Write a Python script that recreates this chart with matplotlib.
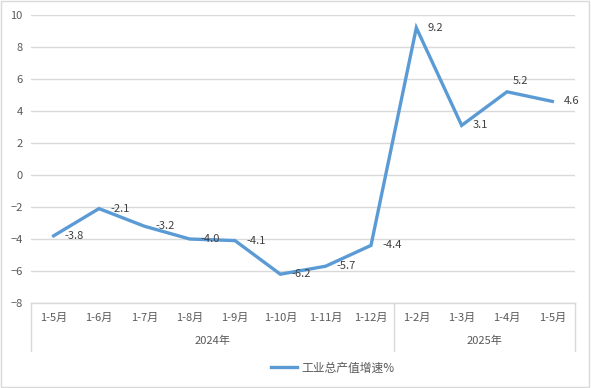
import matplotlib.pyplot as plt
from matplotlib.patches import Rectangle
from matplotlib.lines import Line2D

plt.rcParams['font.family'] = ['Noto Sans CJK SC', 'DejaVu Sans']

months = ['1-5月', '1-6月', '1-7月', '1-8月', '1-9月', '1-10月', '1-11月', '1-12月',
          '1-2月', '1-3月', '1-4月', '1-5月']
years = ['2024年', '2025年']
year_sizes = [8, 4]
growth = [-3.8, -2.1, -3.2, -4.0, -4.1, -6.2, -5.7, -4.4, 9.2, 3.1, 5.2, 4.6]
series_name = '工业总产值增速%'

blue = '#5B9BD5'
grid = '#D9D9D9'
txt = '#595959'

fig = plt.figure(figsize=(5.91, 3.88), dpi=100)
ax = fig.add_axes([31/591, 1 - 303/388, 544/591, 288/388])

x = list(range(len(growth)))
ax.plot(x, growth, color=blue, lw=2.4, solid_joinstyle='miter', zorder=3)

# data labels, mostly to the right; 5.2 sits above
for i, v in enumerate(growth):
    dx, dy = (4, 8) if i == 10 else (8, 0)
    ax.annotate(f'{v:.1f}', (i, v), xytext=(dx, dy), textcoords='offset points',
                ha='left', va='center', fontsize=8, color='#404040')

ax.set_xlim(-0.5, len(growth) - 0.5)
ax.set_ylim(-8, 10)
ax.set_yticks(range(-8, 11, 2))
ax.grid(axis='y', color=grid, lw=1)
ax.set_axisbelow(True)
for s in ax.spines.values():
    s.set_visible(False)
ax.set_xticks(x)
ax.set_xticklabels(months)
ax.tick_params(axis='both', length=0, labelsize=8, labelcolor=txt)
ax.tick_params(axis='x', pad=7)
ax.tick_params(axis='y', pad=6)

# category axis line and group separators
trans = ax.get_xaxis_transform()
ax.plot([-0.5, len(growth) - 0.5], [0, 0], color=grid, lw=1, transform=trans, clip_on=False)
start = -0.5
for name, n in zip(years, year_sizes):
    ax.plot([start, start], [0, -0.165], color=grid, lw=1, transform=trans, clip_on=False)
    ax.text(start + n / 2, -0.13, name, transform=trans, ha='center', va='center',
            fontsize=8, color=txt)
    start += n
ax.plot([start, start], [0, -0.165], color=grid, lw=1, transform=trans, clip_on=False)

handle = Line2D([], [], color=blue, lw=2.4)
fig.legend([handle], [series_name], loc='center', bbox_to_anchor=(333/591, 1 - 368/388),
           frameon=False, fontsize=8.5, labelcolor=txt, handlelength=2.2, handletextpad=0.4)

fig.add_artist(Rectangle((0.001, 0.003), 0.996, 0.994, transform=fig.transFigure,
                         fill=False, edgecolor='#D9D9D9', lw=1))

fig.savefig('out.png', dpi=100)
